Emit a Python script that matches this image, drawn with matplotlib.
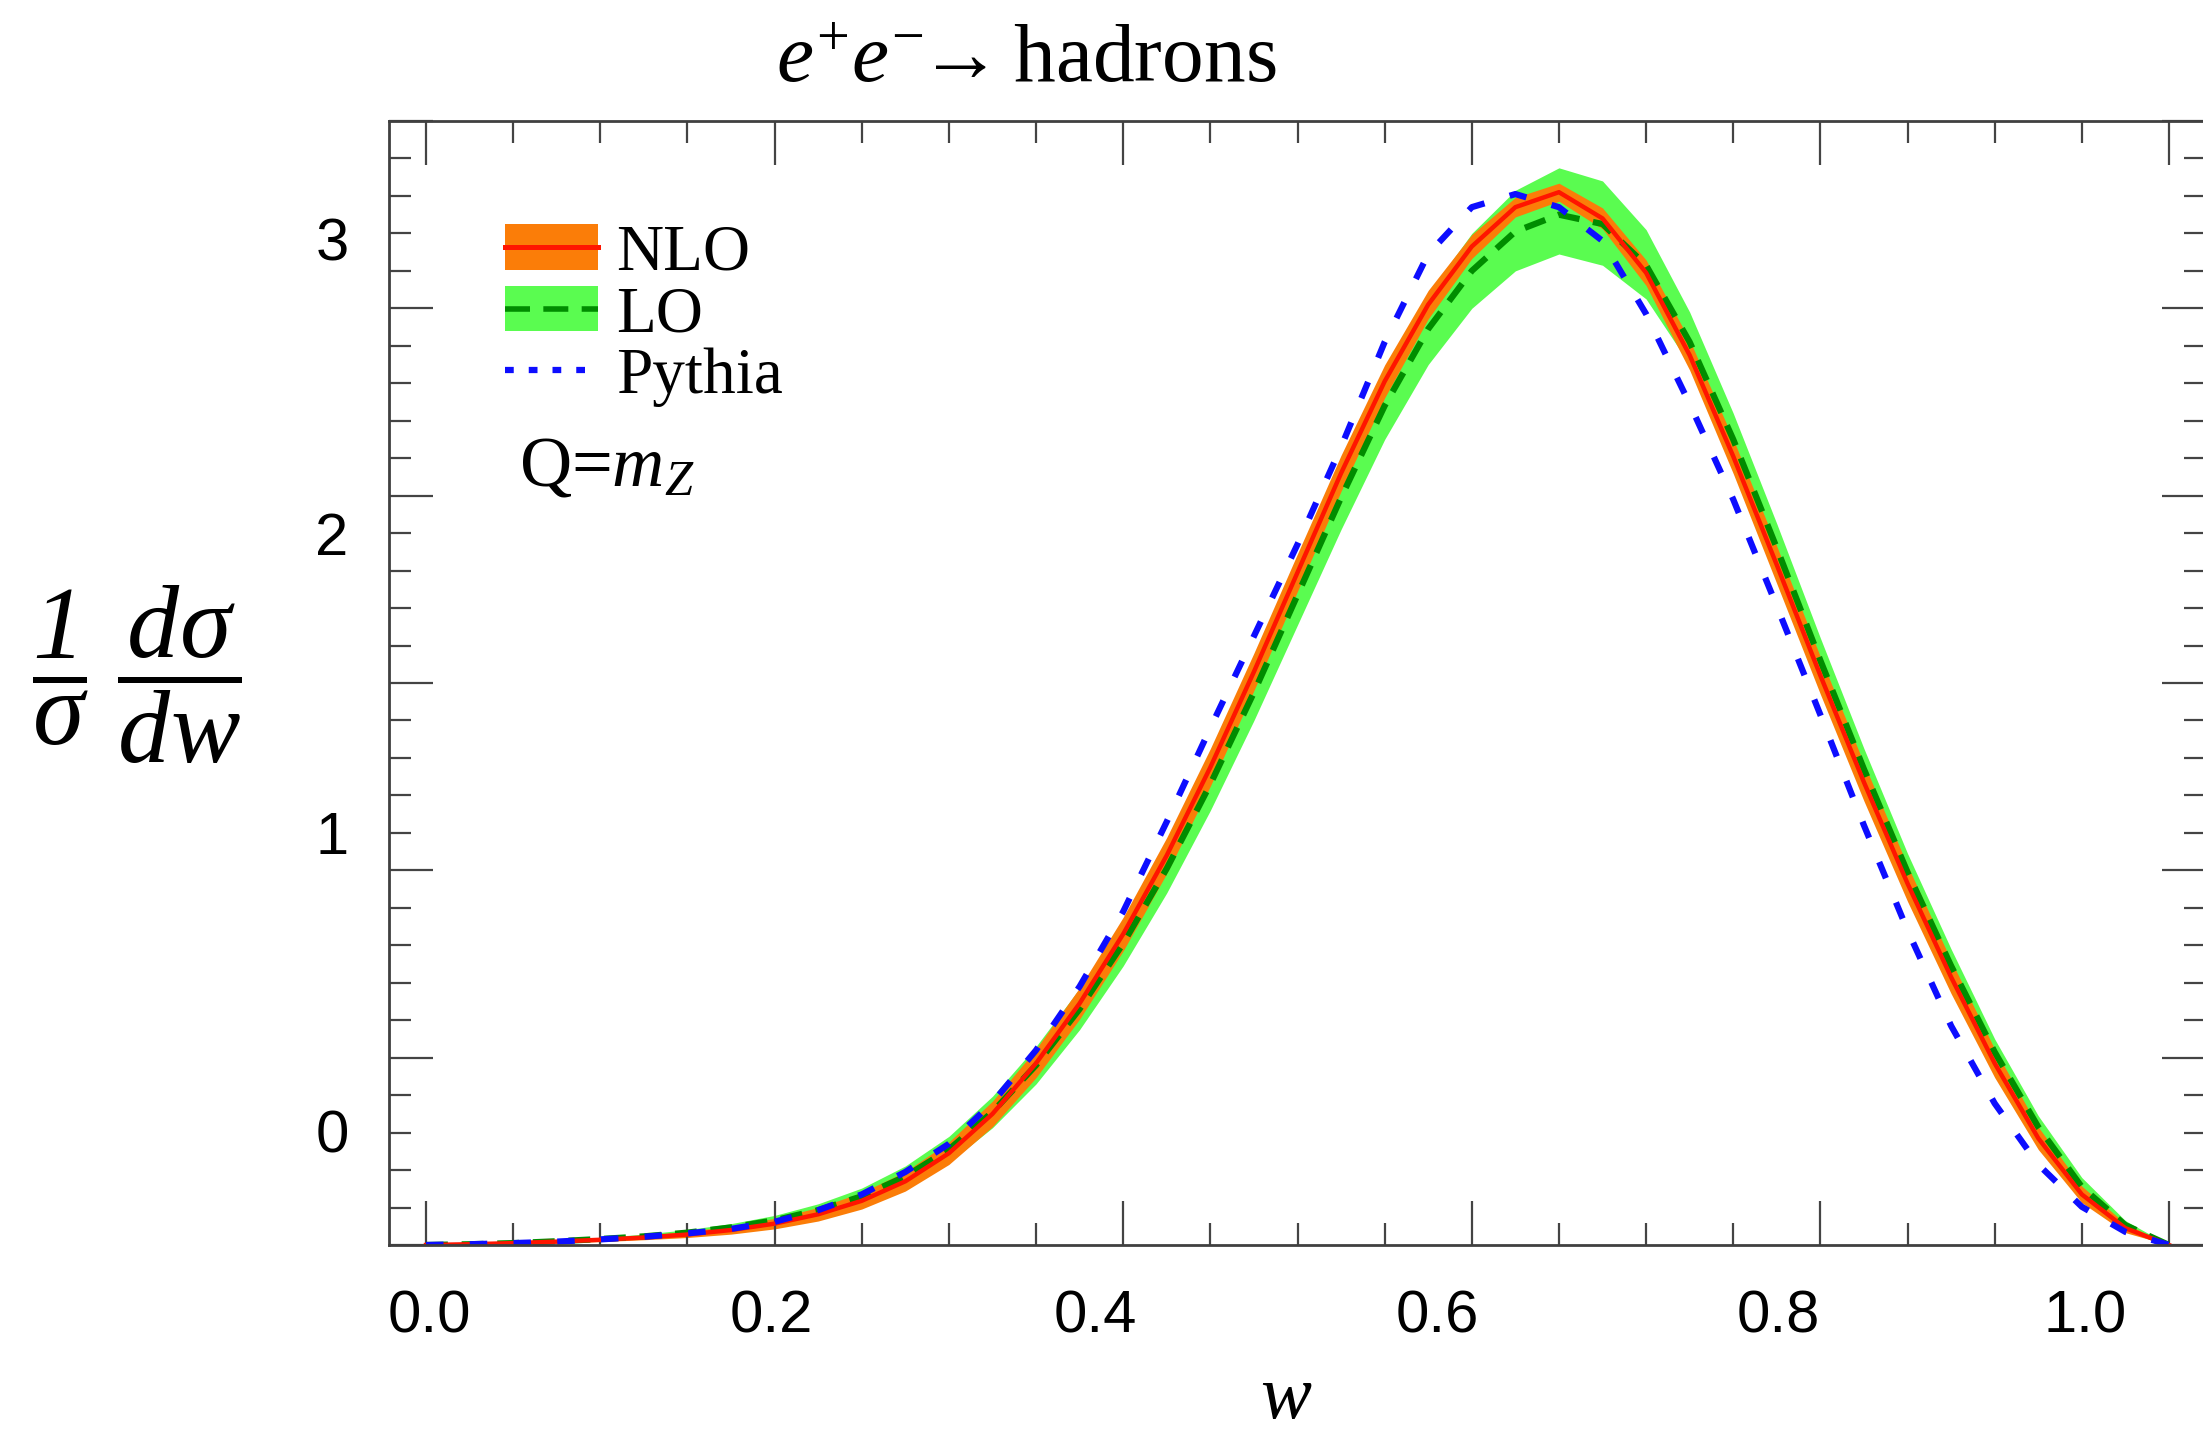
import matplotlib
matplotlib.use('Agg')
import matplotlib.pyplot as plt
from matplotlib.patches import Patch
from matplotlib.lines import Line2D
from matplotlib.ticker import MultipleLocator

plt.rcParams['font.family'] = ['Liberation Serif', 'DejaVu Serif']
plt.rcParams['mathtext.fontset'] = 'custom'
plt.rcParams['mathtext.rm'] = 'Liberation Serif'
plt.rcParams['mathtext.it'] = 'Liberation Serif:italic'
plt.rcParams['mathtext.bf'] = 'Liberation Serif:bold'
# 'sf' slot used only to get an italic digit 1 in the y label
plt.rcParams['mathtext.sf'] = 'Liberation Serif:italic'
plt.rcParams['mathtext.fallback'] = 'stix'

# w grid and curves
w = [0.000, 0.025, 0.050, 0.075, 0.100, 0.125, 0.150, 0.175, 0.200, 0.225,
     0.250, 0.275, 0.300, 0.325, 0.350, 0.375, 0.400, 0.425, 0.450, 0.475,
     0.500, 0.525, 0.550, 0.575, 0.600, 0.625, 0.650, 0.675, 0.700, 0.725,
     0.750, 0.775, 0.800, 0.825, 0.850, 0.875, 0.900, 0.925, 0.950, 0.975, 1.000]

nlo = [0.000, 0.002, 0.005, 0.009, 0.014, 0.020, 0.028, 0.040, 0.057, 0.082,
       0.118, 0.170, 0.245, 0.350, 0.485, 0.645, 0.830, 1.040, 1.275, 1.530,
       1.795, 2.060, 2.305, 2.510, 2.665, 2.770, 2.810, 2.740, 2.595, 2.375,
       2.105, 1.815, 1.520, 1.235, 0.965, 0.715, 0.485, 0.285, 0.135, 0.045, 0.000]
nlo_lo = [0.000, 0.000, 0.002, 0.005, 0.009, 0.014, 0.020, 0.029, 0.043, 0.064,
          0.096, 0.144, 0.215, 0.316, 0.447, 0.603, 0.785, 0.992, 1.225, 1.480,
          1.745, 2.012, 2.261, 2.472, 2.633, 2.744, 2.786, 2.712, 2.561, 2.335,
          2.059, 1.765, 1.470, 1.185, 0.917, 0.671, 0.447, 0.255, 0.113, 0.033, 0.000]
nlo_hi = [0.000, 0.004, 0.008, 0.013, 0.019, 0.026, 0.036, 0.051, 0.071, 0.100,
          0.140, 0.196, 0.275, 0.384, 0.523, 0.687, 0.875, 1.088, 1.325, 1.580,
          1.845, 2.108, 2.349, 2.548, 2.697, 2.796, 2.834, 2.768, 2.629, 2.415,
          2.151, 1.865, 1.570, 1.285, 1.013, 0.759, 0.523, 0.315, 0.157, 0.057, 0.000]

lo = [0.000, 0.002, 0.005, 0.010, 0.016, 0.023, 0.033, 0.047, 0.066, 0.093,
      0.130, 0.183, 0.255, 0.355, 0.480, 0.630, 0.805, 1.005, 1.230, 1.475,
      1.735, 1.995, 2.240, 2.445, 2.600, 2.705, 2.750, 2.725, 2.615, 2.410,
      2.150, 1.860, 1.560, 1.270, 0.995, 0.745, 0.515, 0.315, 0.155, 0.053, 0.000]
lo_lo = [0.000, 0.001, 0.003, 0.007, 0.012, 0.017, 0.025, 0.037, 0.053, 0.076,
         0.108, 0.155, 0.220, 0.313, 0.430, 0.575, 0.745, 0.940, 1.160, 1.400,
         1.655, 1.910, 2.150, 2.350, 2.500, 2.600, 2.645, 2.615, 2.525, 2.350,
         2.095, 1.810, 1.515, 1.230, 0.960, 0.710, 0.480, 0.285, 0.135, 0.042, 0.000]
lo_hi = [0.000, 0.003, 0.007, 0.013, 0.020, 0.029, 0.041, 0.057, 0.079, 0.110,
         0.152, 0.211, 0.290, 0.397, 0.530, 0.685, 0.865, 1.070, 1.300, 1.550,
         1.815, 2.080, 2.330, 2.540, 2.700, 2.815, 2.875, 2.840, 2.710, 2.490,
         2.220, 1.925, 1.620, 1.325, 1.045, 0.790, 0.550, 0.345, 0.180, 0.065, 0.000]

pythia = [0.000, 0.002, 0.005, 0.009, 0.015, 0.022, 0.031, 0.043, 0.062, 0.093,
          0.135, 0.195, 0.270, 0.380, 0.520, 0.690, 0.890, 1.130, 1.380, 1.625,
          1.870, 2.130, 2.410, 2.645, 2.770, 2.805, 2.770, 2.680, 2.485, 2.245,
          1.990, 1.705, 1.415, 1.120, 0.840, 0.585, 0.378, 0.215, 0.102, 0.035, 0.000]

# the tick labels were pasted on and don't sit on the frame ticks
xtick_labels = ['0.0', '0.2', '0.4', '0.6', '0.8', '1.0']
xtick_at = [0.002, 0.198, 0.384, 0.580, 0.776, 0.952]
ytick_labels = ['0', '1', '2', '3']
ytick_at = [0.304, 1.100, 1.898, 2.686]

orange = '#fb7d08'
red = '#ff1500'
lgreen = '#5afc50'
dgreen = '#008c00'
blue = '#0d0dff'

fig = plt.figure(figsize=(22.03, 14.32), dpi=100)
ax = fig.add_axes([389/2203, 1 - 1245/1432, 1817/2203, 1124/1432])

ax.fill_between(w, lo_lo, lo_hi, color=lgreen, lw=0)
ax.plot(w, lo, color=dgreen, lw=4.5, dashes=(3.5, 2.2))
ax.fill_between(w, nlo_lo, nlo_hi, color=orange, lw=0)
ax.plot(w, nlo, color=red, lw=3.2)
ax.plot(w, pythia, color=blue, lw=4.5, dashes=(2.8, 4.2))

ax.set_xlim(-0.02125, 1.02125)
ax.set_ylim(0, 3.0)

# frame ticks, no labels
ax.xaxis.set_major_locator(MultipleLocator(0.2))
ax.xaxis.set_minor_locator(MultipleLocator(0.05))
ax.yaxis.set_major_locator(MultipleLocator(0.5))
ax.yaxis.set_minor_locator(MultipleLocator(0.1))
ax.tick_params(which='both', direction='in', top=True, right=True,
               labelbottom=False, labelleft=False, color='#444444', width=1.6)
ax.tick_params(which='major', length=32)
ax.tick_params(which='minor', length=16)
for s in ax.spines.values():
    s.set_color('#404040')
    s.set_linewidth(2.0)

sx = ax.secondary_xaxis('bottom')
sx.set_xticks(xtick_at, xtick_labels, fontfamily='Liberation Sans', fontsize=43)
sx.tick_params(length=0, pad=32)
sy = ax.secondary_yaxis('left')
sy.set_yticks(ytick_at, ytick_labels, fontfamily='Liberation Sans', fontsize=43)
sy.tick_params(length=0, pad=29)
for sec in (sx, sy):
    for s in sec.spines.values():
        s.set_visible(False)

ax.set_ylabel(r'$\dfrac{\mathsf{1}}{\sigma}\;\dfrac{d\sigma}{dw}$', fontsize=75,
              rotation=0, ha='center', va='center')
ax.yaxis.set_label_coords(-0.139, 0.507)
ax.set_xlabel(r'$w$', fontsize=55, va='center')
ax.xaxis.set_label_coords(0.4937, -0.1379)

ax.set_title(r'$e^{+}e^{-}\!\!\rightarrow$hadrons', fontsize=60, x=0.3506, pad=28)

handles = [
    (Patch(facecolor=orange, edgecolor='none'), Line2D([], [], color=red, lw=3.6)),
    (Patch(facecolor=lgreen, edgecolor='none'),
     Line2D([], [], color=dgreen, lw=4, dashes=(4.5, 2.4))),
    Line2D([], [], color=blue, lw=4.5, dashes=(1.4, 2.4)),
]
ax.legend(handles, ['NLO', 'LO', 'Pythia'], loc='upper left',
          bbox_to_anchor=(0.0638, 0.908), frameon=False, fontsize=47,
          handlelength=1.43, handleheight=0.69, handletextpad=0.28,
          labelspacing=0.03, borderpad=0, borderaxespad=0)

ax.text(0.0715, 0.6753, r'Q=$m_Z$', transform=ax.transAxes, fontsize=52,
        va='baseline')

fig.savefig('out.png', dpi=100)
